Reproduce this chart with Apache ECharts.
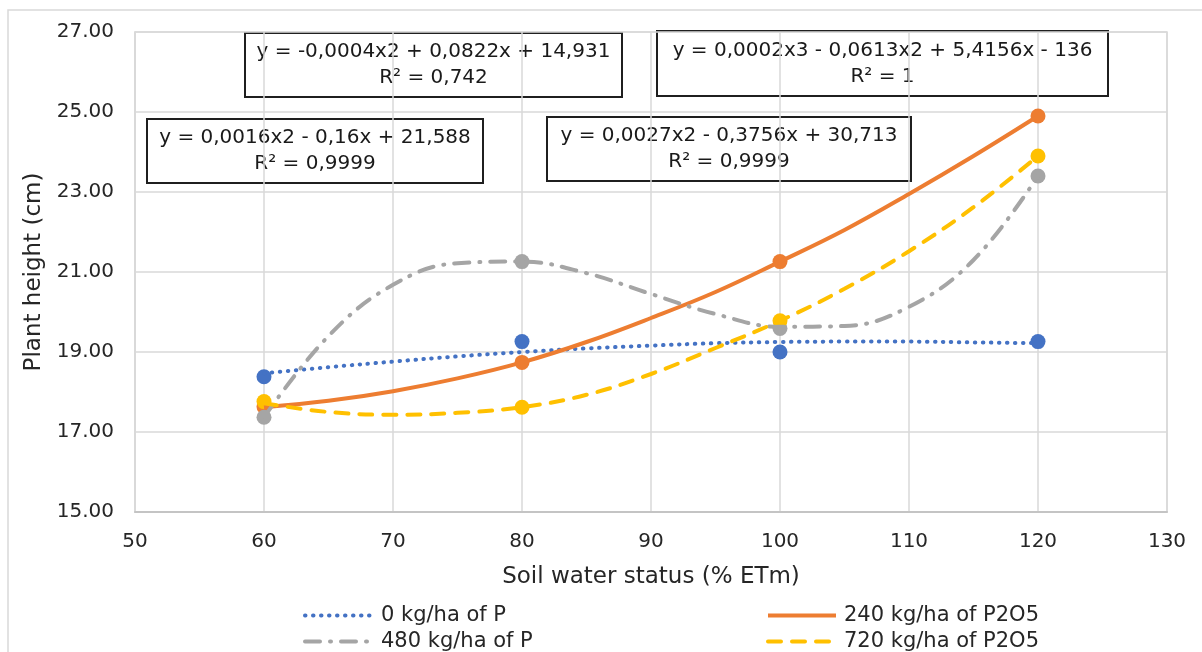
<!DOCTYPE html>
<html>
<head>
<meta charset="utf-8">
<script src="https://cdn.jsdelivr.net/npm/echarts@6/dist/echarts.min.js"></script>
<style>
  html, body { margin: 0; padding: 0; background: #fff; }
  #chart { width: 1202px; height: 652px; }
</style>
</head>
<body>
<div id="chart"></div>
<script>
  // measured points (soil water status, plant height)
  const waterLevels = [60, 80, 100, 120];
  const height0 = [18.38, 19.26, 19.00, 19.26];
  const height240 = [17.63, 18.74, 21.26, 24.90];
  const height480 = [17.37, 21.26, 19.59, 23.40];
  const height720 = [17.76, 17.62, 19.78, 23.90];

  // trend lines, every 5 % ETm
  const trendX = [60, 65, 70, 75, 80, 85, 90, 95, 100, 105, 110, 115, 120];
  const trend0 = [18.47, 18.62, 18.76, 18.89, 19.00, 19.09, 19.16, 19.22, 19.25, 19.26, 19.26, 19.24, 19.22];
  const trend240 = [17.62, 17.78, 18.02, 18.34, 18.74, 19.25, 19.85, 20.50, 21.26, 22.05, 22.95, 23.90, 24.90];
  const trend480 = [17.37, 19.40, 20.68, 21.22, 21.26, 20.97, 20.45, 19.95, 19.63, 19.65, 20.13, 21.30, 23.40];
  const trend720 = [17.72, 17.50, 17.43, 17.48, 17.62, 17.93, 18.45, 19.10, 19.78, 20.58, 21.52, 22.62, 23.90];

  const seriesNames = ['0 kg/ha of P', '240 kg/ha of P2O5', '480 kg/ha of P', '720 kg/ha of P2O5'];
  const colors = ['#4472C4', '#ED7D31', '#A5A5A5', '#FFC000'];

  const equations = [
    'y = -0,0004x2 + 0,0822x + 14,931\nR² = 0,742',
    'y = 0,0002x3 - 0,0613x2 + 5,4156x - 136\nR² = 1',
    'y = 0,0016x2 - 0,16x + 21,588\nR² = 0,9999',
    'y = 0,0027x2 - 0,3756x + 30,713\nR² = 0,9999'
  ];

  const font = 'DejaVu Sans';
  const textColor = '#262626';

  function pairs(xs, ys) {
    return xs.map(function (x, i) { return [x, ys[i]]; });
  }

  function pointSeries(name, ys, color) {
    return {
      name: name + ' (data)',
      type: 'scatter',
      data: pairs(waterLevels, ys),
      symbolSize: 15,
      itemStyle: { color: color, opacity: 1 },
      z: 2
    };
  }

  function trendSeries(name, ys, color, dash) {
    return {
      name: name,
      type: 'line',
      data: pairs(trendX, ys),
      smooth: 0.4,
      symbol: 'none',
      lineStyle: { color: color, width: 4, type: dash, cap: dash === 'solid' ? 'butt' : 'round' },
      itemStyle: { color: color },
      z: 3
    };
  }

  // one legend per entry so they sit in a 2 x 2 grid like the original
  function legendEntry(name, left, top, solid) {
    return {
      data: [name],
      left: left, top: top,
      itemWidth: 68, itemHeight: 20,
      itemStyle: { opacity: 0 },
      lineStyle: { width: 4, cap: solid ? 'butt' : 'round' },
      textStyle: { fontFamily: font, fontSize: 21, color: textColor, padding: [0, 0, 0, 3] }
    };
  }

  function eqBox(text, left, top, right, bottom) {
    return {
      type: 'group',
      children: [{
        type: 'rect',
        shape: { x: left, y: top, width: right - left, height: bottom - top },
        style: { fill: 'none', stroke: '#1f1f1f', lineWidth: 2 }
      }, {
        type: 'text',
        style: {
          text: text,
          x: (left + right) / 2,
          y: (top + bottom) / 2,
          align: 'center',
          verticalAlign: 'middle',
          fontFamily: font,
          fontSize: 20,
          lineHeight: 26,
          fill: '#1a1a1a'
        }
      }]
    };
  }

  const chart = echarts.init(document.getElementById('chart'));

  const option = {
    animation: false,
    backgroundColor: '#ffffff',
    grid: {
      left: 135, right: 35, top: 32, bottom: 140,
      show: true, borderColor: '#d9d9d9', borderWidth: 1.5
    },
    xAxis: {
      type: 'value',
      min: 50, max: 130, interval: 10,
      name: 'Soil water status (% ETm)',
      nameLocation: 'middle',
      nameGap: 54,
      nameTextStyle: { fontFamily: font, fontSize: 23, color: textColor },
      axisLine: { show: true, lineStyle: { color: '#c4c4c4', width: 2 } },
      axisTick: { show: false },
      axisLabel: { margin: 20, fontFamily: font, fontSize: 20, color: textColor },
      splitLine: { show: true, lineStyle: { color: '#d9d9d9', width: 1.5 } }
    },
    yAxis: {
      type: 'value',
      min: 15, max: 27, interval: 2,
      name: 'Plant height (cm)',
      nameLocation: 'middle',
      nameGap: 88,
      nameTextStyle: { fontFamily: font, fontSize: 23, color: textColor },
      axisLine: { show: true, lineStyle: { color: '#d9d9d9', width: 1.5 } },
      axisTick: { show: false },
      axisLabel: {
        margin: 21, fontFamily: font, fontSize: 20, color: textColor,
        formatter: function (v) { return v.toFixed(2); }
      },
      splitLine: { show: true, lineStyle: { color: '#d9d9d9', width: 1.5 } }
    },
    legend: [
      legendEntry(seriesNames[0], 298, 600, false),
      legendEntry(seriesNames[2], 298, 626, false),
      legendEntry(seriesNames[1], 761, 600, true),
      legendEntry(seriesNames[3], 761, 626, false)
    ],
    graphic: [
      {
        type: 'rect',
        shape: { x: 8, y: 10, width: 1300, height: 700 },
        style: { fill: 'none', stroke: '#d9d9d9', lineWidth: 1.5 },
        silent: true
      },
      eqBox(equations[0], 245, 33, 622, 97),
      eqBox(equations[1], 657, 31, 1108, 96),
      eqBox(equations[2], 147, 119, 483, 183),
      eqBox(equations[3], 547, 117, 911, 181)
    ],
    series: [
      pointSeries(seriesNames[0], height0, colors[0]),
      pointSeries(seriesNames[1], height240, colors[1]),
      pointSeries(seriesNames[2], height480, colors[2]),
      pointSeries(seriesNames[3], height720, colors[3]),
      trendSeries(seriesNames[0], trend0, colors[0], [0.5, 7.5]),
      trendSeries(seriesNames[1], trend240, colors[1], 'solid'),
      trendSeries(seriesNames[2], trend480, colors[2], [15, 10, 1, 10]),
      trendSeries(seriesNames[3], trend720, colors[3], [13, 11])
    ]
  };

  chart.setOption(option);
</script>
</body>
</html>
